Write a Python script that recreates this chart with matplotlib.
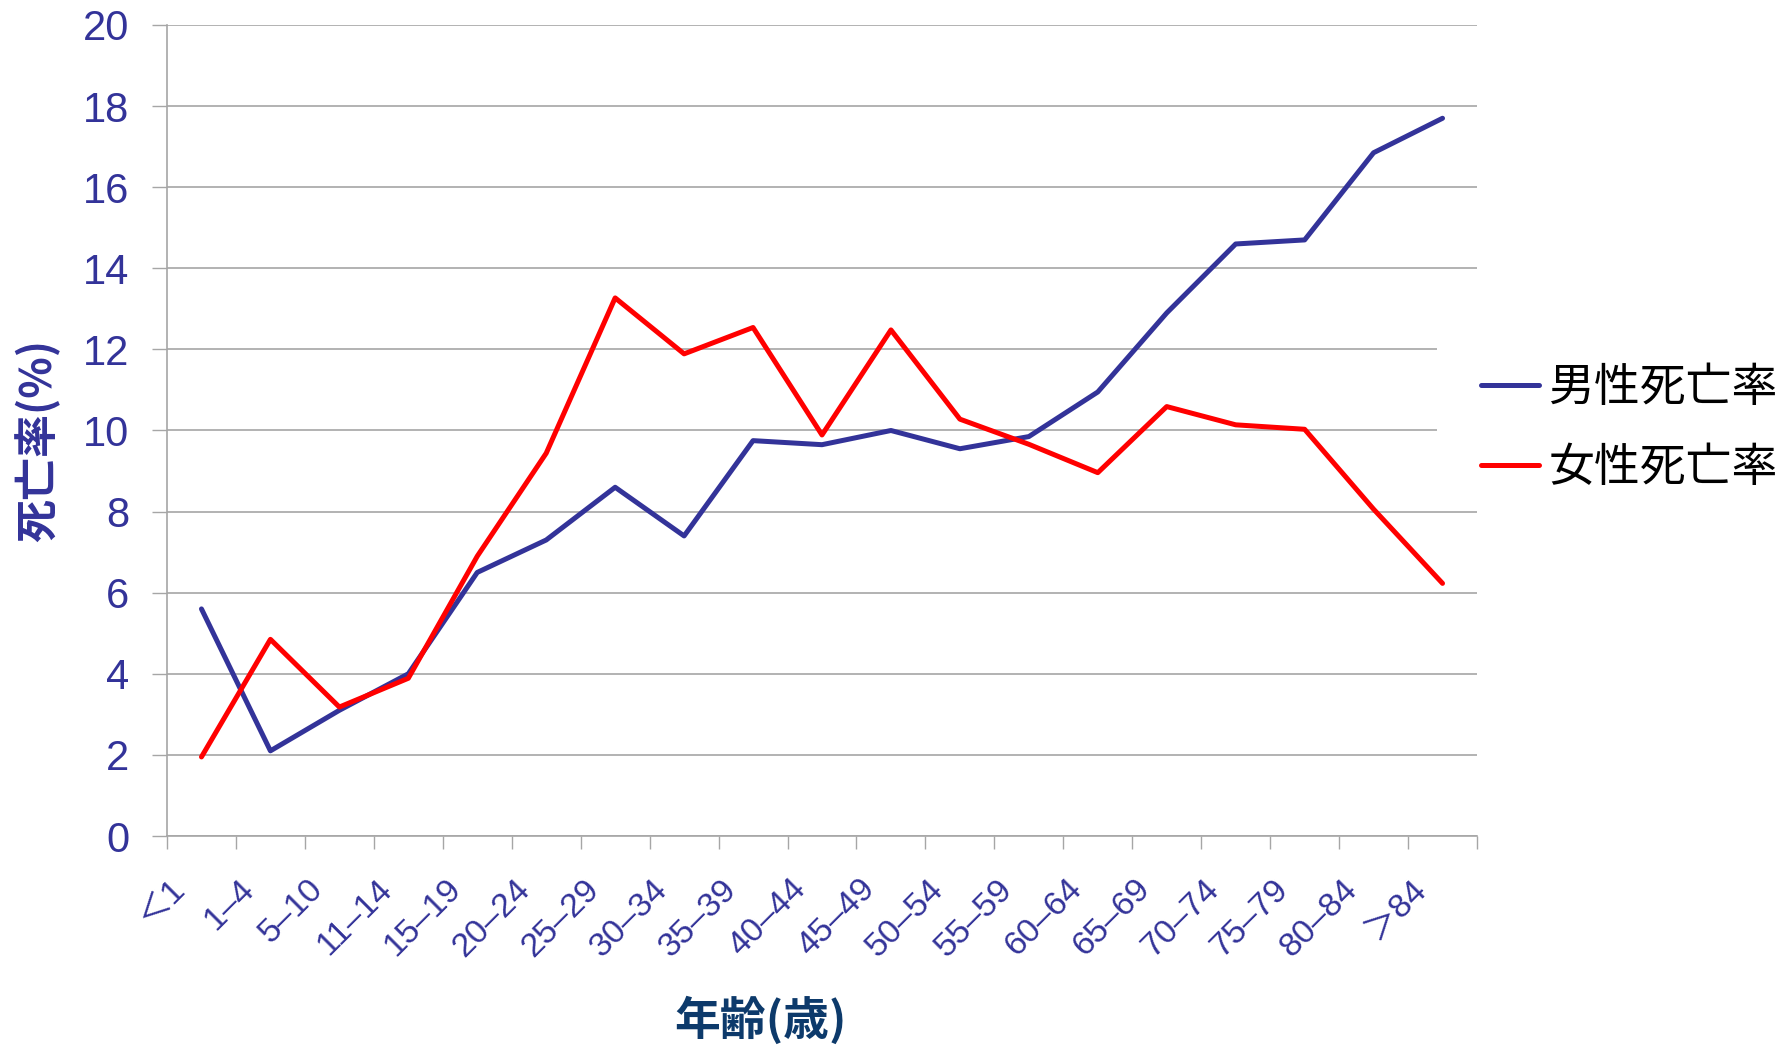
import matplotlib
matplotlib.use("Agg")
import matplotlib.pyplot as plt
from matplotlib.patches import Rectangle
from matplotlib.transforms import ScaledTranslation
import numpy as np

age_groups = ["＜1", "1–4", "5–10", "11–14", "15–19", "20–24", "25–29", "30–34", "35–39",
              "40–44", "45–49", "50–54", "55–59", "60–64", "65–69", "70–74", "75–79",
              "80–84", "＞84"]
male_rate = [5.6, 2.1, 3.1, 4.0, 6.5, 7.3, 8.6, 7.4, 9.75, 9.65, 10.0, 9.55, 9.85,
             10.95, 12.9, 14.6, 14.7, 16.85, 17.7]
female_rate = [1.95, 4.85, 3.18, 3.89, 6.9, 9.44, 13.27, 11.89, 12.54, 9.89, 12.48,
               10.28, 9.66, 8.96, 10.59, 10.14, 10.03, 8.06, 6.23]
series_names = ["男性死亡率", "女性死亡率"]
y_ticks = [0, 2, 4, 6, 8, 10, 12, 14, 16, 18, 20]
y_label = "死亡率(%)"
x_label = "年齢(歳)"

BLUE = "#333399"
RED = "#FF0000"
GRID = "#A6A6A6"
NUM_FONT = ["Liberation Sans", "Noto Sans CJK JP", "DejaVu Sans"]
CJK_FONT = ["Noto Sans CJK JP", "DejaVu Sans"]

W, H = 1791, 1047
fig = plt.figure(figsize=(W / 100, H / 100), dpi=100)
L, R, T, B = 167, 1477, 25, 836
ax = fig.add_axes([L / W, 1 - B / H, (R - L) / W, (B - T) / H])

x = np.arange(len(age_groups))
ax.plot(x, male_rate, color=BLUE, lw=3.6, solid_capstyle="round", solid_joinstyle="round",
        label=series_names[0], zorder=3)
ax.plot(x, female_rate, color=RED, lw=3.6, solid_capstyle="round", solid_joinstyle="round",
        label=series_names[1], zorder=3)

ax.set_xlim(-0.5, len(age_groups) - 0.5)
ax.set_ylim(0, 20)

# y axis
ax.set_yticks(y_ticks)
ax.set_yticklabels([str(v) for v in y_ticks], fontfamily=NUM_FONT, fontsize=30, color=BLUE)
ax.tick_params(axis="y", direction="out", length=11, width=1, color=GRID, pad=16)
ax.yaxis.grid(True, color=GRID, lw=1.2)
ax.set_axisbelow(True)

# x axis: tick marks at boundaries, labels at centers
ax.set_xticks(np.arange(-0.5, len(age_groups) + 0.5, 1.0), minor=True)
ax.set_xticks(x)
ax.tick_params(axis="x", which="minor", direction="out", length=9, width=1, color=GRID)
ax.tick_params(axis="x", which="major", length=0, pad=27)
ax.set_xticklabels(age_groups, rotation=45, ha="right", va="top", rotation_mode="anchor",
                   fontfamily=NUM_FONT, fontsize=24.5, color=BLUE)
off = ScaledTranslation(-32 / 100, 0, fig.dpi_scale_trans)
for lab in ax.get_xticklabels():
    lab.set_transform(lab.get_transform() + off)

for s in ["top", "right"]:
    ax.spines[s].set_visible(False)
for s in ["left", "bottom"]:
    ax.spines[s].set_color(GRID)
    ax.spines[s].set_linewidth(1.2)

# axis titles
fig.text(38 / W, 1 - 440 / H, y_label, rotation=90, ha="center", va="center",
         fontfamily=CJK_FONT, fontsize=31, fontweight="bold", color=BLUE)
fig.text(760 / W, 1 - 1021 / H, x_label, ha="center", va="center",
         fontfamily=CJK_FONT, fontsize=33, fontweight="bold", color="#0D3A6B")

# legend background area (covers gridlines like the original legend box)
fig.patches.append(Rectangle((1437 / W, 1 - 505 / H), 1 - 1437 / W, (505 - 340) / H,
                             transform=fig.transFigure, facecolor="white",
                             edgecolor="none", zorder=1))
leg = fig.legend(loc="center left", bbox_to_anchor=(1472 / W, 1 - 428 / H),
                 frameon=False, prop={"family": CJK_FONT, "size": 33},
                 handlelength=1.27, handletextpad=0.2, labelspacing=0.68,
                 borderaxespad=0, borderpad=0.2)
leg.set_zorder(5)

fig.savefig("out.png", dpi=100, facecolor="white")
